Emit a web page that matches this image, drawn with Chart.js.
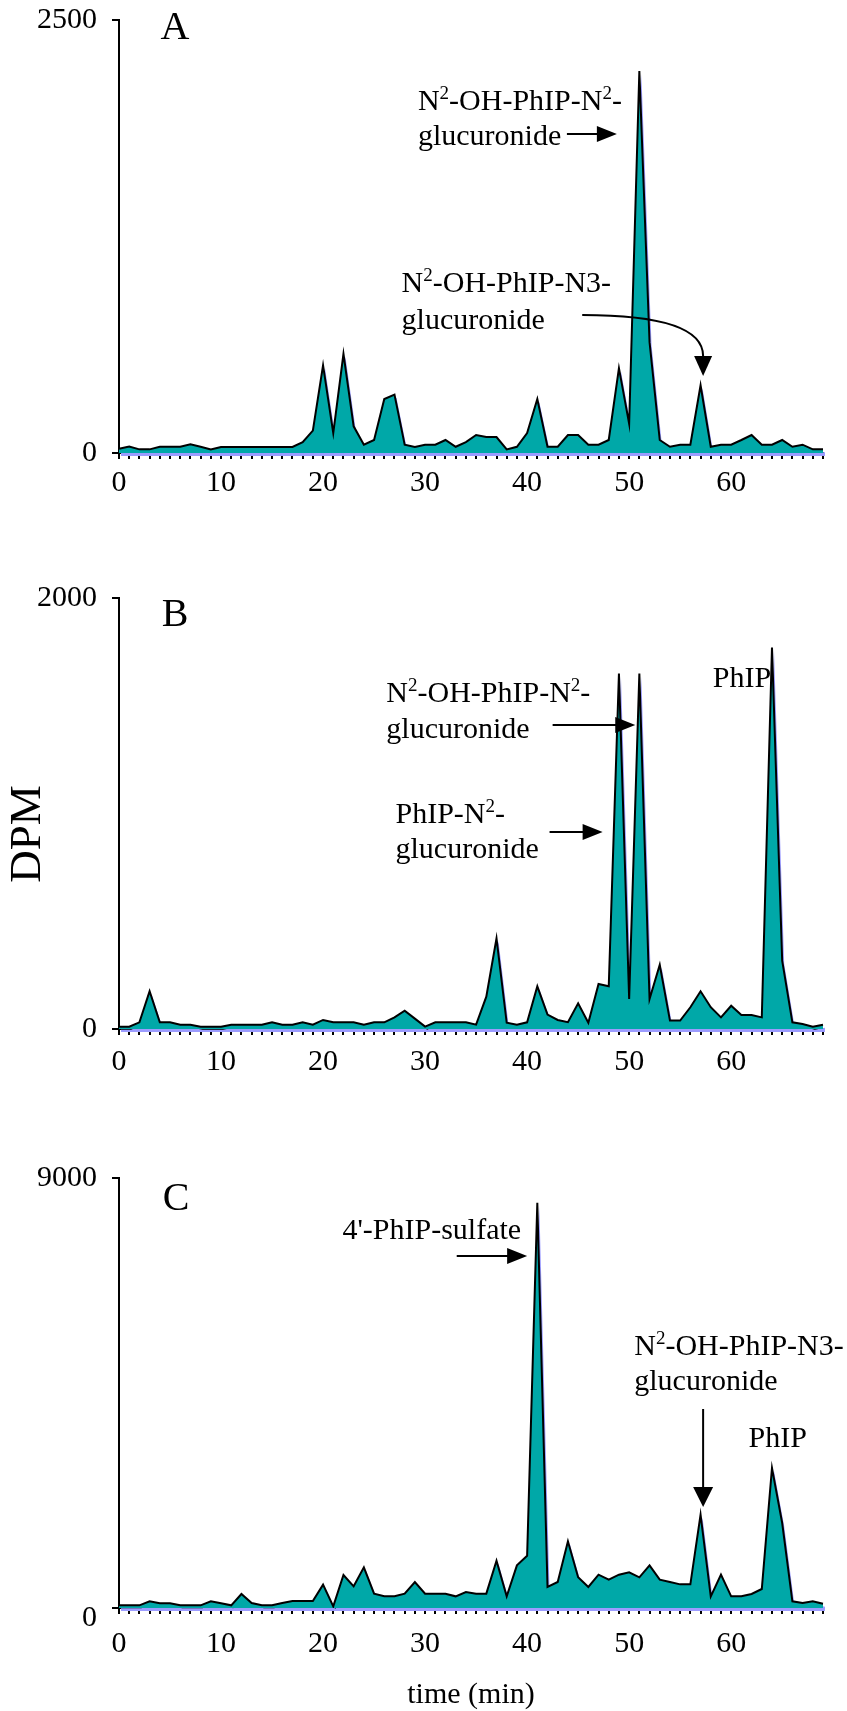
<!DOCTYPE html>
<html>
<head>
<meta charset="utf-8">
<script src="https://cdn.jsdelivr.net/npm/chart.js@4.4.0/dist/chart.umd.min.js"></script>
<style>
  html, body { margin: 0; padding: 0; background: #fff; }
  body { width: 847px; height: 1711px; position: relative; overflow: hidden; }
  canvas { position: absolute; left: 0; }
</style>
</head>
<body>
<canvas id="chartA" width="847" height="560" style="top:0px"></canvas>
<canvas id="chartB" width="847" height="560" style="top:578px"></canvas>
<canvas id="chartC" width="847" height="553" style="top:1158px"></canvas>
<script>
// retention time (min), one point per minute
const minutes = [0, 1, 2, 3, 4, 5, 6, 7, 8, 9, 10, 11, 12, 13, 14, 15, 16, 17, 18, 19,
  20, 21, 22, 23, 24, 25, 26, 27, 28, 29, 30, 31, 32, 33, 34, 35, 36, 37, 38, 39,
  40, 41, 42, 43, 44, 45, 46, 47, 48, 49, 50, 51, 52, 53, 54, 55, 56, 57, 58, 59,
  60, 61, 62, 63, 64, 65, 66, 67, 68, 69];

// DPM
const dpmA = [25, 38, 21, 21, 36, 36, 36, 50, 36, 21, 35, 35, 35, 35, 35, 35, 35, 35, 63, 129,
  506, 115, 573, 154, 48, 75, 312, 337, 48, 35, 48, 48, 75, 36, 63, 104, 92, 92, 21, 36,
  115, 312, 36, 36, 104, 104, 48, 48, 75, 490, 169, 2206, 640, 75, 36, 48, 48, 391, 36, 48,
  48, 75, 104, 48, 48, 75, 36, 48, 21, 21];

const dpmB = [11, 11, 31, 175, 31, 31, 20, 20, 11, 11, 11, 20, 20, 20, 20, 31, 20, 20, 31, 20,
  42, 31, 31, 31, 20, 31, 31, 54, 85, 48, 11, 31, 31, 31, 31, 20, 150, 421, 29, 20,
  31, 198, 67, 42, 32, 119, 29, 209, 198, 1650, 139, 1650, 139, 298, 39, 39, 101, 175, 101, 54,
  108, 65, 65, 54, 1770, 317, 31, 23, 11, 20];

const dpmC = [56, 56, 56, 140, 98, 98, 56, 56, 56, 140, 98, 56, 293, 105, 56, 56, 105, 147, 147, 147,
  488, 35, 691, 454, 851, 300, 244, 244, 300, 544, 300, 300, 300, 244, 335, 300, 300, 990, 244, 893,
  1095, 8480, 440, 544, 1395, 642, 440, 698, 593, 698, 747, 642, 893, 593, 544, 495, 495, 1953, 244, 698,
  244, 244, 293, 398, 2930, 1779, 140, 105, 140, 91];

const yMaxA = 2500;
const yMaxB = 2000;
const yMaxC = 9000;

// peak labels: text (^x = superscript x), left x in min, baseline y in DPM
const notesA = [
  { text: 'N^2-OH-PhIP-N^2-', x: 29.3, y: 1980 },
  { text: 'glucuronide', x: 29.3, y: 1778 },
  { text: 'N^2-OH-PhIP-N3-', x: 27.7, y: 930 },
  { text: 'glucuronide', x: 27.7, y: 716 }
];
const arrowsA = [
  { type: 'right', x1: 43.9, x2: 48.8, y: 1842 },
  { type: 'curve', from: [45.4, 797], c1: [52.06, 797], c2: [57.25, 739], to: [57.25, 560], tip: 445 }
];

const notesB = [
  { text: 'N^2-OH-PhIP-N^2-', x: 26.2, y: 1517 },
  { text: 'glucuronide', x: 26.2, y: 1350 },
  { text: 'PhIP-N^2-', x: 27.1, y: 956 },
  { text: 'glucuronide', x: 27.1, y: 794 },
  { text: 'PhIP', x: 58.2, y: 1587 }
];
const arrowsB = [
  { type: 'right', x1: 42.5, x2: 50.6, y: 1411 },
  { type: 'right', x1: 42.2, x2: 47.4, y: 914 }
];

const notesC = [
  { text: "4'-PhIP-sulfate", x: 21.9, y: 7723 },
  { text: 'N^2-OH-PhIP-N3-', x: 50.5, y: 5295 },
  { text: 'glucuronide', x: 50.5, y: 4563 },
  { text: 'PhIP', x: 61.7, y: 3370 }
];
const arrowsC = [
  { type: 'right', x1: 33.1, x2: 40.0, y: 7367 },
  { type: 'down', x: 57.25, y1: 4165, y2: 2114 }
];

const AREA = '#00a8a8';
const SHADOW = '#9c9cff';
const SERIF = "'Liberation Serif', 'Times New Roman', serif";
const TEXT_FONT = '30px ' + SERIF;
const SUP_FONT = '19px ' + SERIF;

// draws the lavender copy of the area shifted right/down, like the Excel shadow
const shadowPlugin = {
  id: 'areaShadow',
  beforeDatasetsDraw(chart) {
    chart.ctx.save();
    chart.ctx.translate(2, 3);
  },
  afterDatasetDraw(chart, args) {
    if (chart.data.datasets[args.index].isShadow) chart.ctx.restore();
  }
};

function drawRich(ctx, str, x, y) {
  const parts = str.split(/\^(.)/);
  let cx = x;
  parts.forEach((p, i) => {
    if (!p) return;
    const sup = i % 2 === 1;
    ctx.font = sup ? SUP_FONT : TEXT_FONT;
    ctx.fillText(p, cx, sup ? y - 11 : y);
    cx += ctx.measureText(p).width;
  });
}

function arrowHead(ctx, x, y, dir, len, half) {
  ctx.beginPath();
  if (dir === 'right') {
    ctx.moveTo(x, y);
    ctx.lineTo(x - len, y - half);
    ctx.lineTo(x - len, y + half);
  } else {
    ctx.moveTo(x, y);
    ctx.lineTo(x - half, y - len);
    ctx.lineTo(x + half, y - len);
  }
  ctx.closePath();
  ctx.fill();
}

function notesPlugin(notes, arrows, letter, extra) {
  return {
    id: 'peakNotes',
    afterDraw(chart) {
      const { ctx, chartArea } = chart;
      const sx = chart.scales.x, sy = chart.scales.y;
      const px = (m) => sx.getPixelForValue(m);
      const py = (v) => sy.getPixelForValue(v);
      ctx.save();
      ctx.fillStyle = '#000';
      ctx.strokeStyle = '#000';
      ctx.textBaseline = 'alphabetic';
      ctx.textAlign = 'left';
      notes.forEach(n => drawRich(ctx, n.text, px(n.x), py(n.y)));

      ctx.lineWidth = 2;
      arrows.forEach(a => {
        if (a.type === 'right') {
          const x1 = px(a.x1), x2 = px(a.x2), y = py(a.y);
          ctx.beginPath();
          ctx.moveTo(x1, y);
          ctx.lineTo(x2 - 16, y);
          ctx.stroke();
          arrowHead(ctx, x2, y, 'right', 20, 8);
        } else if (a.type === 'down') {
          const x = px(a.x), y1 = py(a.y1), y2 = py(a.y2);
          ctx.beginPath();
          ctx.moveTo(x, y1);
          ctx.lineTo(x, y2 - 16);
          ctx.stroke();
          arrowHead(ctx, x, y2, 'down', 20, 10);
        } else {
          ctx.beginPath();
          ctx.moveTo(px(a.from[0]), py(a.from[1]));
          ctx.bezierCurveTo(px(a.c1[0]), py(a.c1[1]), px(a.c2[0]), py(a.c2[1]), px(a.to[0]), py(a.to[1]));
          ctx.stroke();
          arrowHead(ctx, px(a.to[0]), py(a.tip), 'down', 20, 9);
        }
      });

      ctx.font = '40px ' + SERIF;
      ctx.textAlign = 'center';
      ctx.textBaseline = 'middle';
      ctx.fillText(letter.text, chartArea.left + letter.dx, chartArea.top + letter.dy);

      if (extra) {
        ctx.translate(chartArea.left + extra.dx, chartArea.top + extra.dy);
        ctx.rotate(-Math.PI / 2);
        ctx.font = '45px ' + SERIF;
        ctx.fillText(extra.text, 0, 0);
      }
      ctx.restore();
    }
  };
}

function makeChart(id, values, yMax, cfg) {
  const tickFont = { family: SERIF, size: 30, lineHeight: 1.2 };
  const yFont = { family: SERIF, size: 30, lineHeight: cfg.zeroDrop ? 0.7 : 1.2 };
  return new Chart(document.getElementById(id), {
    type: 'line',
    data: {
      labels: minutes,
      datasets: [
        { data: values, fill: 'origin', backgroundColor: AREA, borderColor: '#000', borderWidth: 2,
          pointRadius: 0, tension: 0, order: 0 },
        { data: values, isShadow: true, fill: 'origin', backgroundColor: SHADOW,
          borderColor: 'rgba(0,0,0,0)', borderWidth: 1, pointRadius: 0, tension: 0, order: 1 }
      ]
    },
    options: {
      responsive: false,
      animation: false,
      devicePixelRatio: 1,
      layout: { padding: { left: 0, right: 24, top: 20, bottom: 0 } },
      plugins: { legend: { display: false }, tooltip: { enabled: false } },
      scales: {
        x: {
          z: 1,
          border: { display: true, color: '#000', width: 2 },
          grid: { display: true, drawOnChartArea: false, drawTicks: true, tickLength: 6, color: '#000', lineWidth: 2 },
          ticks: {
            autoSkip: false, maxRotation: 0, minRotation: 0, padding: cfg.xPad, color: '#000', font: tickFont,
            callback(v, i) { return i % 10 === 0 ? this.getLabelForValue(v) : ''; }
          },
          title: cfg.xTitle ? {
            display: true, text: cfg.xTitle, color: '#000',
            font: { family: SERIF, size: 30, lineHeight: 1 }, padding: { top: 0, bottom: 1 }
          } : { display: false },
          afterFit(scale) {
            scale.height = cfg.xHeight;
            scale.paddingLeft = 0;
            scale.paddingRight = 0;
          }
        },
        y: {
          z: 1,
          min: 0,
          max: yMax,
          border: { display: true, color: '#000', width: 2 },
          grid: { display: true, drawOnChartArea: false, drawTicks: true, tickLength: 7, color: '#000', lineWidth: 2 },
          ticks: {
            stepSize: yMax, padding: 15, color: '#000', font: yFont,
            // in panel C the "0" sits a little below its tick
            callback: (v) => (cfg.zeroDrop && v === 0) ? ['', '0'] : String(v)
          },
          afterFit(scale) {
            scale.width = 119;
            scale.paddingTop = 0;
            scale.paddingBottom = 0;
          }
        }
      }
    },
    plugins: [shadowPlugin, notesPlugin(cfg.notes, cfg.arrows, cfg.letter, cfg.extra)]
  });
}

makeChart('chartA', dpmA, yMaxA, {
  xPad: 6, xHeight: 107, notes: notesA, arrows: arrowsA,
  letter: { text: 'A', dx: 56, dy: 8 }
});
makeChart('chartB', dpmB, yMaxB, {
  xPad: 9, xHeight: 109, notes: notesB, arrows: arrowsB,
  letter: { text: 'B', dx: 56, dy: 17 },
  extra: { text: 'DPM', dx: -91, dy: 236 }
});
makeChart('chartC', dpmC, yMaxC, {
  xPad: 12, xHeight: 103, notes: notesC, arrows: arrowsC, xTitle: 'time (min)', zeroDrop: true,
  letter: { text: 'C', dx: 57, dy: 21 }
});
</script>
</body>
</html>
